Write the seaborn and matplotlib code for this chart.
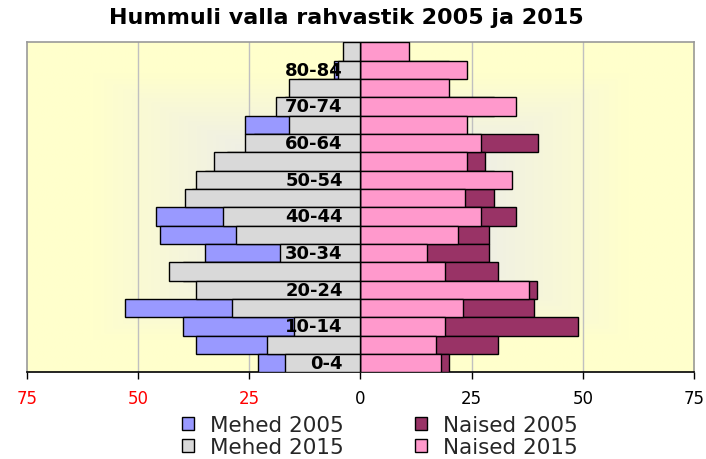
import numpy as np
import pandas as pd
import matplotlib
matplotlib.use("Agg")
import matplotlib.pyplot as plt
import seaborn as sns
from matplotlib.patches import Patch

# age groups, top of the pyramid first
ages = ["85+", "80-84", "75-79", "70-74", "65-69", "60-64", "55-59", "50-54",
        "45-49", "40-44", "35-39", "30-34", "25-29", "20-24", "15-19",
        "10-14", "5-9", "0-4"]
mehed_2005 = [3, 6, 14, 17, 26, 24, 30, 35, 38, 46, 45, 35, 40, 35, 53, 40, 37, 23]
mehed_2015 = [4, 5, 16, 19, 16, 26, 33, 37, 39.5, 31, 28, 18, 43, 37, 29, 15, 21, 17]
naised_2005 = [9, 20, 18, 30, 22, 40, 28, 30, 30, 35, 29, 29, 31, 39.6, 39, 49, 31, 20]
naised_2015 = [11, 24, 20, 35, 24, 27, 24, 34, 23.6, 27, 22, 15, 19, 38, 23, 19, 17, 18]
shown_labels = ["80-84", "70-74", "60-64", "50-54", "40-44", "30-34", "20-24", "10-14", "0-4"]
xticks = [-75, -50, -25, 0, 25, 50, 75]

df = pd.DataFrame({"vanus": ages,
                   "m05": [-v for v in mehed_2005],
                   "m15": [-v for v in mehed_2015],
                   "n05": naised_2005,
                   "n15": naised_2015})

col_m05 = "#9999FF"
col_m15 = "#D9D9D9"
col_n05 = "#993366"
col_n15 = "#FF99CC"

sns.set_style("white")
plt.rcParams["font.family"] = ["DejaVu Sans"]

fig = plt.figure(figsize=(7.06, 4.60), dpi=100)
ax = fig.add_axes([0.0382, 0.1885, 0.9448, 0.7175])

kw = dict(y="vanus", order=ages, orient="h", width=1.0, edgecolor="black",
          linewidth=1.0, ax=ax, zorder=3)
sns.barplot(data=df, x="n05", color=col_n05, saturation=1, **kw)
sns.barplot(data=df, x="n15", color=col_n15, saturation=1, **kw)
sns.barplot(data=df, x="m05", color=col_m05, saturation=1, **kw)
sns.barplot(data=df, x="m15", color=col_m15, saturation=1, **kw)

# background: light yellow fading to a pale core
nx, ny = 300, 200
u = np.abs(np.linspace(-1, 1, nx))[None, :]
v = np.abs(np.linspace(-1, 1, ny))[:, None]
t = np.clip((np.maximum(u, v) - 0.3) / 0.5, 0, 1)
edge = np.array([1.0, 1.0, 0.80])
core = np.array([0.93, 0.93, 0.91])
img = core + (edge - core) * t[..., None]
ax.imshow(img, extent=[-75, 75, 17.5, -0.5], aspect="auto", zorder=0,
          interpolation="bilinear")

ax.set_xlim(-75, 75)
ax.set_ylim(17.5, -0.5)

for g in [-50, -25, 25, 50]:
    ax.axvline(g, color="#C0C0C0", lw=1, zorder=1)

# age labels inside the plot
for lab in shown_labels:
    ax.text(-4, ages.index(lab), lab, ha="right", va="center",
            fontsize=13, fontweight="bold", color="black", zorder=5)

ax.set_yticks([])
ax.set_ylabel("")
ax.set_xlabel("")
ax.set_xticks(xticks)
ax.set_xticklabels([str(abs(x)) for x in xticks], fontsize=12)
for lbl, x in zip(ax.get_xticklabels(), xticks):
    lbl.set_color("red" if x < 0 else "black")
ax.tick_params(axis="x", direction="out", length=5, width=1, color="black", pad=7,
               bottom=True)

for side in ["left", "top", "right"]:
    ax.spines[side].set_color("#999999")
    ax.spines[side].set_linewidth(1.2)
ax.spines["bottom"].set_color("black")
ax.spines["bottom"].set_linewidth(1.2)

fig.suptitle("Hummuli valla rahvastik 2005 ja 2015", x=0.49, y=0.982,
             fontsize=16, fontweight="bold", color="black")

handles = [Patch(facecolor=col_m05, edgecolor="black", label="Mehed 2005"),
           Patch(facecolor=col_m15, edgecolor="black", label="Mehed 2015"),
           Patch(facecolor=col_n05, edgecolor="black", label="Naised 2005"),
           Patch(facecolor=col_n15, edgecolor="black", label="Naised 2015")]
fig.legend(handles=handles, ncol=2, loc="center", bbox_to_anchor=(0.538, 0.05),
           frameon=False, fontsize=15.5, handlelength=0.55, handleheight=0.55,
           handletextpad=0.75, columnspacing=3.3, labelspacing=0.1)

fig.savefig("out.png", dpi=100)
